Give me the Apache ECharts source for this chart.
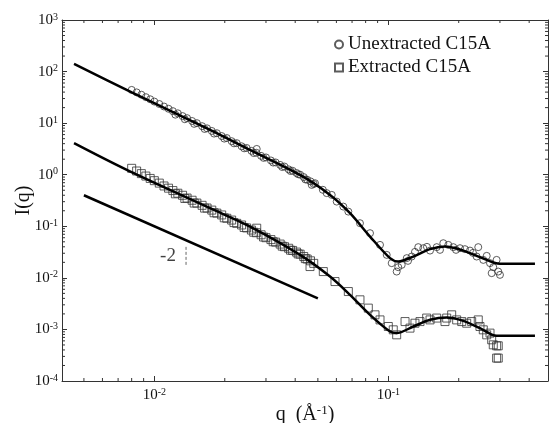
<!DOCTYPE html>
<html>
<head>
<meta charset="utf-8">
<script src="https://cdn.jsdelivr.net/npm/echarts@6/dist/echarts.min.js"></script>
<style>
html, body { margin: 0; padding: 0; background: #fff; }
#chart { width: 550px; height: 423px; }
</style>
</head>
<body>
<div id="chart"></div>
<script>
// axis ranges
var X_MIN = 0.00403, X_MAX = 0.4815;
var Y_MIN = 1e-4, Y_MAX = 1e3;

// minor tick positions
var xMinorTicks = [0.005, 0.006, 0.007, 0.008, 0.009, 0.02, 0.03, 0.04, 0.05, 0.06, 0.07, 0.08, 0.09, 0.2, 0.3, 0.4];
var yMinorTicks = [];
[1e-4, 1e-3, 1e-2, 1e-1, 1, 10, 100].forEach(function (d) {
    [2, 3, 4, 5, 6, 7, 8, 9].forEach(function (m) { yMinorTicks.push(m * d); });
});

// Unextracted C15A (circles)
var unextQ = [0.0080, 0.0084, 0.0088, 0.0092, 0.0096, 0.0100, 0.0105, 0.0110, 0.0115, 0.0120,
    0.0126, 0.0132, 0.0138, 0.0145, 0.0152, 0.0160, 0.0168, 0.0176, 0.0185, 0.0194,
    0.0204, 0.0214, 0.0225, 0.0236, 0.0248, 0.0260, 0.0273, 0.0286, 0.0300, 0.0315,
    0.0330, 0.0345, 0.0360, 0.0375, 0.0390, 0.0405, 0.0420, 0.0435, 0.0450, 0.0465, 0.0480,
    0.0123, 0.0135, 0.0148, 0.0164, 0.0180, 0.0199, 0.0219, 0.0242, 0.0266, 0.0293,
    0.0322, 0.0352, 0.0382, 0.0412, 0.0442, 0.02739,
    0.04706, 0.04862, 0.0525, 0.0545, 0.05730, 0.06018, 0.06423, 0.06748, 0.07566, 0.08353,
    0.09216, 0.09844, 0.1034, 0.1086, 0.1103, 0.1141, 0.1199, 0.1214, 0.1259, 0.1300,
    0.1343, 0.1411, 0.1463, 0.1508, 0.1610, 0.1663, 0.1718, 0.1805, 0.1896, 0.1947,
    0.2025, 0.2126, 0.2234, 0.2301, 0.2385, 0.2424, 0.2547, 0.2634, 0.2721, 0.2766,
    0.2810, 0.2904, 0.2951, 0.3001];
var unextI = [44.1, 39.5, 35.6, 31.9, 29.0, 26.2, 23.5, 21.0, 19.0, 17.1,
    15.5, 13.7, 12.5, 11.0, 10.0, 8.73, 7.93, 7.06, 6.38, 5.62,
    5.14, 4.47, 4.09, 3.56, 3.30, 2.90, 2.66, 2.32, 2.16, 1.89,
    1.73, 1.55, 1.44, 1.27, 1.19, 1.08, 1.00, 0.90, 0.80, 0.743, 0.66,
    14.6, 11.9, 9.68, 7.71, 6.27, 5.01, 4.06, 3.25, 2.63, 2.12,
    1.72, 1.41, 1.18, 1.02, 0.81, 3.16,
    0.634, 0.684, 0.51, 0.44, 0.406, 0.301, 0.241, 0.1927, 0.1148, 0.0735,
    0.0436, 0.0279, 0.01928, 0.01324, 0.01612, 0.01786, 0.0241, 0.02136, 0.0259, 0.0319,
    0.0394, 0.0376, 0.0399, 0.0338, 0.0394, 0.0349, 0.0470, 0.0436, 0.0394, 0.0349,
    0.0376, 0.0360, 0.0338, 0.0305, 0.0259, 0.0394, 0.0223, 0.0267, 0.0193, 0.01234,
    0.0161, 0.0223, 0.01324, 0.01143];

// Extracted C15A (squares)
var extQ = [0.0080, 0.0084, 0.0088, 0.0092, 0.0096, 0.0100, 0.0105, 0.0110, 0.0115, 0.0120,
    0.0126, 0.0132, 0.0138, 0.0145, 0.0152, 0.0160, 0.0168, 0.0176, 0.0185, 0.0194,
    0.0204, 0.0214, 0.0225, 0.0236, 0.0248, 0.0260, 0.0273, 0.0286, 0.0300, 0.0315,
    0.0330, 0.0345, 0.0360, 0.0375, 0.0390, 0.0405, 0.0420, 0.0435, 0.0450, 0.0465, 0.0480,
    0.0123, 0.0135, 0.0148, 0.0164, 0.0180, 0.0199, 0.0219, 0.0242, 0.0266, 0.0293,
    0.0322, 0.0352, 0.0382, 0.0412, 0.0442, 0.02739,
    0.04628, 0.05275, 0.05918, 0.06748, 0.07566, 0.08213, 0.08773, 0.09216, 0.1000, 0.1050,
    0.1086, 0.1179, 0.1238, 0.1300, 0.1366, 0.1459, 0.1508, 0.1610, 0.1747, 0.1777,
    0.1866, 0.1960, 0.2060, 0.2163, 0.2272, 0.2424, 0.2465, 0.2547, 0.2634, 0.2721,
    0.2766, 0.2810, 0.2904, 0.2951, 0.2904, 0.2951];
var extI = [1.33, 1.18, 1.05, 0.942, 0.847, 0.766, 0.687, 0.605, 0.548, 0.493,
    0.438, 0.399, 0.353, 0.320, 0.282, 0.255, 0.226, 0.206, 0.180, 0.166,
    0.143, 0.132, 0.114, 0.106, 0.0929, 0.0845, 0.0750, 0.0684, 0.0601, 0.0552,
    0.0493, 0.0452, 0.0402, 0.0375, 0.0340, 0.0316, 0.0288, 0.0259, 0.0232, 0.0214, 0.0191,
    0.426, 0.346, 0.282, 0.225, 0.183, 0.146, 0.118, 0.0948, 0.0767, 0.0619,
    0.0502, 0.0412, 0.0344, 0.0291, 0.0236, 0.0918,
    0.01656, 0.01324, 0.00848, 0.00543, 0.00375, 0.00259, 0.00192, 0.00153, 0.00114, 0.000982,
    0.000786, 0.00142, 0.00106, 0.00132, 0.00142, 0.00166, 0.00153, 0.00166, 0.00142, 0.00166,
    0.00192, 0.00153, 0.00142, 0.00132, 0.00142, 0.00153, 0.00114, 0.000982, 0.000786, 0.000848,
    0.000629, 0.000503, 0.000481, 0.000481, 0.000278, 0.000278];

// model fits
var unextFitQ = [0.004537, 0.008005, 0.0173, 0.02564, 0.04195, 0.05636, 0.06861, 0.08353, 0.1017, 0.1103,
    0.1279, 0.1508, 0.1747, 0.2092, 0.2465, 0.3001, 0.4235];
var unextFitI = [140.4, 39.7, 7.4, 3.024, 0.991, 0.406, 0.1794, 0.0632, 0.02409, 0.0207,
    0.02587, 0.0360, 0.0404, 0.0338, 0.0252, 0.01868, 0.01868];
var extFitQ = [0.004537, 0.007622, 0.0173, 0.02564, 0.04195, 0.05636, 0.06861, 0.08353, 0.1017, 0.1086,
    0.1279, 0.1508, 0.1777, 0.2092, 0.2465, 0.2904, 0.4235];
var extFitI = [4.08, 1.239, 0.2243, 0.0987, 0.0279, 0.0106, 0.004683, 0.001918, 0.000911, 0.000848,
    0.001138, 0.001535, 0.0017, 0.001468, 0.00106, 0.000752, 0.000752];

// slope -2 guide
var slopeQ = [0.005, 0.05];
var slopeI = [0.4, 0.004];
var slopeMarkQ = [0.01366, 0.01366];
var slopeMarkI = [0.0399, 0.0171];
var slopeLabel = { q: 0.01144, i: 0.0267, text: '-2' };

function zip(a, b) {
    var out = [];
    for (var i = 0; i < a.length; i++) out.push([a[i], b[i]]);
    return out;
}

function powLabel(v) {
    var e = Math.log(v) / Math.LN10;
    if (Math.abs(e - Math.round(e)) > 1e-6) return '';
    return '{b|10}{e|' + Math.round(e) + '}';
}

var FONT = 'Liberation Serif';
var AXIS_COLOR = '#333';
var MARK_COLOR = '#333';

var chart = echarts.init(document.getElementById('chart'), null, { renderer: 'canvas' });

var option = {
    animation: false,
    backgroundColor: '#fff',
    grid: { left: 62, right: 2, top: 20, bottom: 42, containLabel: false, outerBoundsMode: 'none' },
    legend: {
        data: ['Unextracted C15A', 'Extracted C15A'],
        orient: 'vertical',
        left: 334,
        top: 35,
        padding: 0,
        itemWidth: 8,
        itemHeight: 8,
        itemGap: 4,
        itemTextGap: 19,
        textStyle: { fontFamily: FONT, fontSize: 19, color: '#111' }
    },
    xAxis: [{
        type: 'log', logBase: 10, min: X_MIN, max: X_MAX,
        name: '{a|q  (Å}{s|-1}{a|)}',
        nameLocation: 'middle', nameGap: 23, nameMoveOverlap: false,
        nameTextStyle: {
            rich: {
                a: { fontFamily: FONT, fontSize: 20, color: '#111' },
                s: { fontFamily: FONT, fontSize: 13, color: '#111', verticalAlign: 'top', padding: [0, 0, 8, 0] }
            }
        },
        axisLine: { lineStyle: { color: AXIS_COLOR, width: 1 } },
        axisTick: { inside: true, length: 5, lineStyle: { color: AXIS_COLOR } },
        splitLine: { show: false },
        axisLabel: {
            showMinLabel: false, showMaxLabel: false, margin: 6,
            formatter: powLabel,
            rich: {
                b: { fontFamily: FONT, fontSize: 15, color: '#111' },
                e: { fontFamily: FONT, fontSize: 10, color: '#111', verticalAlign: 'top', padding: [0, 0, 6, 0] }
            }
        }
    }, {
        type: 'log', logBase: 10, min: X_MIN, max: X_MAX, position: 'top',
        axisLine: { lineStyle: { color: AXIS_COLOR, width: 1 } },
        axisTick: { inside: true, length: 5, lineStyle: { color: AXIS_COLOR } },
        axisLabel: { show: false },
        splitLine: { show: false }
    }],
    yAxis: [{
        type: 'log', logBase: 10, min: Y_MIN, max: Y_MAX,
        name: 'I(q)',
        nameLocation: 'middle', nameGap: 28, nameRotate: 90, nameMoveOverlap: false,
        nameTextStyle: { fontFamily: FONT, fontSize: 20, color: '#111' },
        axisLine: { lineStyle: { color: AXIS_COLOR, width: 1 } },
        axisTick: { inside: true, length: 5, lineStyle: { color: AXIS_COLOR } },
        splitLine: { show: false },
        axisLabel: {
            margin: 4,
            formatter: powLabel,
            rich: {
                b: { fontFamily: FONT, fontSize: 15, color: '#111' },
                e: { fontFamily: FONT, fontSize: 10, color: '#111', verticalAlign: 'top', padding: [0, 0, 6, 0] }
            }
        }
    }, {
        type: 'log', logBase: 10, min: Y_MIN, max: Y_MAX, position: 'right',
        axisLine: { lineStyle: { color: AXIS_COLOR, width: 1 } },
        axisTick: { inside: true, length: 5, lineStyle: { color: AXIS_COLOR } },
        axisLabel: { show: false },
        splitLine: { show: false }
    }],
    series: [
        {
            // minor ticks on bottom and top
            type: 'custom', silent: true, z: 1,
            data: xMinorTicks.map(function (v) { return [v, Y_MIN]; }),
            renderItem: function (params, api) {
                var v = api.value(0);
                var a = api.coord([v, Y_MIN]);
                var b = api.coord([v, Y_MAX]);
                return { type: 'group', children: [
                    { type: 'line', shape: { x1: a[0], y1: a[1], x2: a[0], y2: a[1] - 3 }, style: { stroke: AXIS_COLOR, lineWidth: 1 } },
                    { type: 'line', shape: { x1: b[0], y1: b[1], x2: b[0], y2: b[1] + 3 }, style: { stroke: AXIS_COLOR, lineWidth: 1 } }
                ] };
            }
        },
        {
            // minor ticks on left and right
            type: 'custom', silent: true, z: 1,
            data: yMinorTicks.map(function (v) { return [X_MIN, v]; }),
            renderItem: function (params, api) {
                var v = api.value(1);
                var a = api.coord([X_MIN, v]);
                var b = api.coord([X_MAX, v]);
                return { type: 'group', children: [
                    { type: 'line', shape: { x1: a[0], y1: a[1], x2: a[0] + 3, y2: a[1] }, style: { stroke: AXIS_COLOR, lineWidth: 1 } },
                    { type: 'line', shape: { x1: b[0], y1: b[1], x2: b[0] - 3, y2: b[1] }, style: { stroke: AXIS_COLOR, lineWidth: 1 } }
                ] };
            }
        },
        {
            name: 'Unextracted C15A', type: 'scatter', symbol: 'circle', symbolSize: 7, z: 2,
            data: zip(unextQ, unextI),
            itemStyle: { color: 'rgba(255,255,255,0)', borderColor: MARK_COLOR, borderWidth: 1 }
        },
        {
            name: 'Extracted C15A', type: 'scatter', symbol: 'rect', symbolSize: 8, z: 2,
            data: zip(extQ, extI),
            itemStyle: { color: 'rgba(255,255,255,0)', borderColor: MARK_COLOR, borderWidth: 1 }
        },
        {
            type: 'line', data: zip(unextFitQ, unextFitI), smooth: 0.3, showSymbol: false, z: 3,
            lineStyle: { color: '#000', width: 2.5 }
        },
        {
            type: 'line', data: zip(extFitQ, extFitI), smooth: 0.3, showSymbol: false, z: 3,
            lineStyle: { color: '#000', width: 2.5 }
        },
        {
            type: 'line', data: zip(slopeQ, slopeI), showSymbol: false, z: 3,
            lineStyle: { color: '#000', width: 2.5 }
        },
        {
            type: 'line', data: zip(slopeMarkQ, slopeMarkI), showSymbol: false, z: 3,
            lineStyle: { color: '#666', width: 1, type: [3, 2] }
        },
        {
            type: 'scatter', symbolSize: 0, z: 3, silent: true,
            data: [[slopeLabel.q, slopeLabel.i]],
            label: {
                show: true, position: 'inside', formatter: slopeLabel.text,
                fontFamily: FONT, fontSize: 19, color: '#111'
            }
        }
    ]
};

chart.setOption(option);
</script>
</body>
</html>
